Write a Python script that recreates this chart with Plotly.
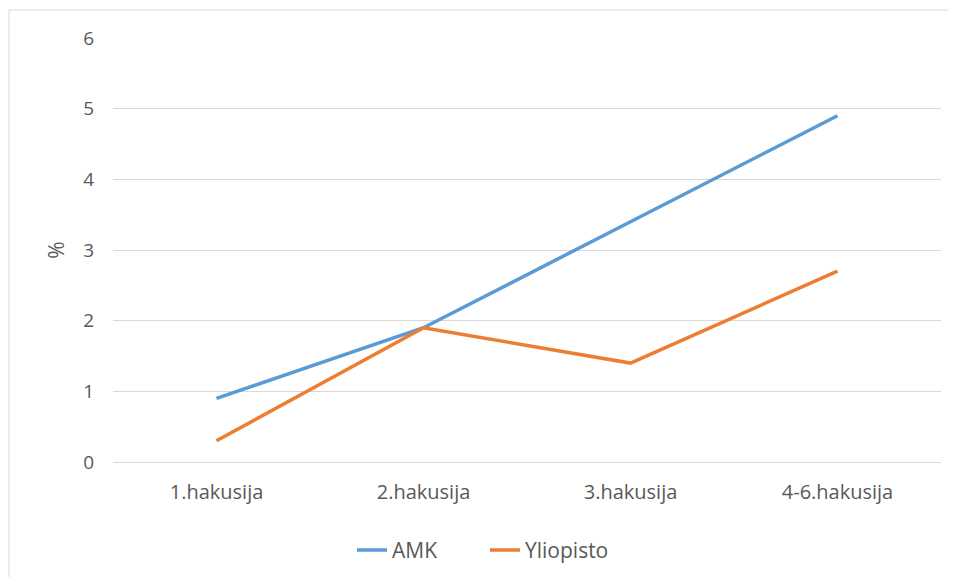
import plotly.graph_objects as go

categories = ["1.hakusija", "2.hakusija", "3.hakusija", "4-6.hakusija"]
amk = [0.9, 1.9, 3.4, 4.9]
yliopisto = [0.3, 1.9, 1.4, 2.7]
y_ticks = [0, 1, 2, 3, 4, 5, 6]

fig = go.Figure()
fig.add_trace(go.Scatter(x=categories, y=amk, mode="lines", name="AMK",
                         line=dict(color="#5B9BD5", width=3.5)))
fig.add_trace(go.Scatter(x=categories, y=yliopisto, mode="lines", name="Yliopisto",
                         line=dict(color="#ED7D31", width=3.5)))

font_family = "Open Sans, Liberation Sans, sans-serif"
fig.update_layout(
    width=956, height=577,
    margin=dict(l=105, r=23, t=30, b=123),
    paper_bgcolor="white", plot_bgcolor="white",
    font=dict(family=font_family, size=19, color="#595959"),
    showlegend=True,
    legend=dict(orientation="h", x=(352 - 113) / 828, y=-0.16, xanchor="left", yanchor="top",
                font=dict(size=21, color="#595959"), itemwidth=30, tracegroupgap=0,
                entrywidth=88, entrywidthmode="pixels"),
    xaxis=dict(range=[-0.5, 3.5], showgrid=False, showline=False, ticks="",
               ticklabelstandoff=16, zeroline=False,
               tickfont=dict(size=20, color="#595959")),
    yaxis=dict(range=[0, 6], tickvals=y_ticks, showgrid=True, gridcolor="#D9D9D9",
               gridwidth=1, zeroline=True, zerolinecolor="#D9D9D9", zerolinewidth=1,
               showline=False, ticks="", ticklabelstandoff=18,
               tickfont=dict(size=19, color="#595959"),
               title=dict(text="%", font=dict(size=21, color="#595959"), standoff=12)),
)

fig.add_shape(type="rect", xref="paper", yref="paper",
              x0=(9 - 113) / 828, x1=(950 - 113) / 828,
              y0=(462 - 620) / 424, y1=(462 - 10) / 424,
              line=dict(color="#D9D9D9", width=1), layer="below")

fig.write_html("out.html")
